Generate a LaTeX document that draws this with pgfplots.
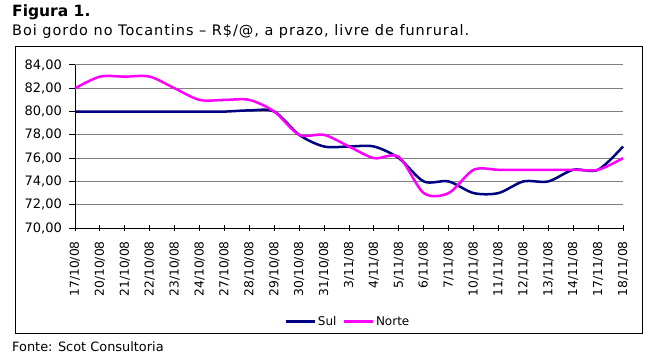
\documentclass[border=0pt]{standalone}
\usepackage{fontspec}
\setmainfont{DejaVu Sans}
\usepackage{pgfplots}
\usepackage{pgfplotstable}
\pgfplotsset{compat=1.18}
\definecolor{sul}{HTML}{000080}
\definecolor{norte}{HTML}{FF00FF}
\definecolor{gridc}{HTML}{808080}
\pgfplotstableread{
i sul norte
0 80 82
1 80 83
2 80 83
3 80 83
4 80 82
5 80 81
6 80 81
7 80.1 81
8 80 80
9 78 78
10 77 78
11 77 77
12 77 76
13 76 76.1
14 74 73
15 74 73
16 73 75
17 73 75
18 74 75
19 74 75
20 75 75
21 75 75
22 77 76
}\data
\begin{document}
\begin{tikzpicture}[x=1bp,y=1bp]
\path[use as bounding box] (0,0) rectangle (652,361);
\draw[black, line width=1bp] (15.5,315) rectangle (642.5,27.5);
\node[anchor=base west, inner sep=0] at (12,345) {\fontsize{15.5bp}{17bp}\selectfont\bfseries Figura 1.};
\node[anchor=base west, inner sep=0] at (12,326) {\fontsize{14.5bp}{16bp}\selectfont\addfontfeature{LetterSpace=6.5}Boi gordo no Tocantins – R\$/@, a prazo, livre de funrural.};
\node[anchor=base west, inner sep=0] at (12,9.5) {\fontsize{12.9bp}{14bp}\selectfont Fonte: Scot Consultoria};
\begin{axis}[
  scale only axis, width=548bp, height=163bp,
  at={(75bp,133bp)}, anchor=south west,
  xmin=0, xmax=22, ymin=70, ymax=84,
  axis lines*=left,
  axis line style={black, line width=1bp},
  xtick={0,...,22},
  xticklabels={17/10/08,20/10/08,21/10/08,22/10/08,23/10/08,24/10/08,27/10/08,28/10/08,29/10/08,30/10/08,31/10/08,3/11/08,4/11/08,5/11/08,6/11/08,7/11/08,10/11/08,11/11/08,12/11/08,13/11/08,14/11/08,17/11/08,18/11/08},
  ytick={70,72,...,84},
  tick align=center,
  major tick length=6bp,
  xtick style={black, line width=1bp},
  ytick style={black, line width=1bp, xshift=-3bp},
  ymajorgrids,
  major grid style={gridc, line width=1bp},
  /pgf/number format/.cd, fixed, fixed zerofill, precision=2, use comma, assume math mode=true,
  /pgfplots/.cd,
  x tick label style={rotate=90, anchor=east, font=\fontsize{12.3bp}{14bp}\selectfont, inner sep=0pt},
  xticklabel shift=10bp,
  y tick label style={font=\fontsize{13bp}{14bp}\selectfont, inner sep=0pt},
  yticklabel shift=10bp,
  legend style={at={(axis description cs:0.498,-0.575)}, anchor=center, draw=none, fill=none,
    legend columns=2, font=\fontsize{12bp}{14bp}\selectfont, inner sep=0pt,
    /tikz/every even column/.append style={column sep=4bp}},
  legend image code/.code={\draw[#1] (0bp,0bp) -- (29bp,0bp);},
  clip=false,
]
\addplot[sul, line width=2.5bp, smooth, no markers] table[x=i, y=sul] {\data};
\addlegendentry{Sul}
\addplot[norte, line width=2.5bp, smooth, no markers] table[x=i, y=norte] {\data};
\addlegendentry{Norte}
\end{axis}
\end{tikzpicture}
\end{document}
